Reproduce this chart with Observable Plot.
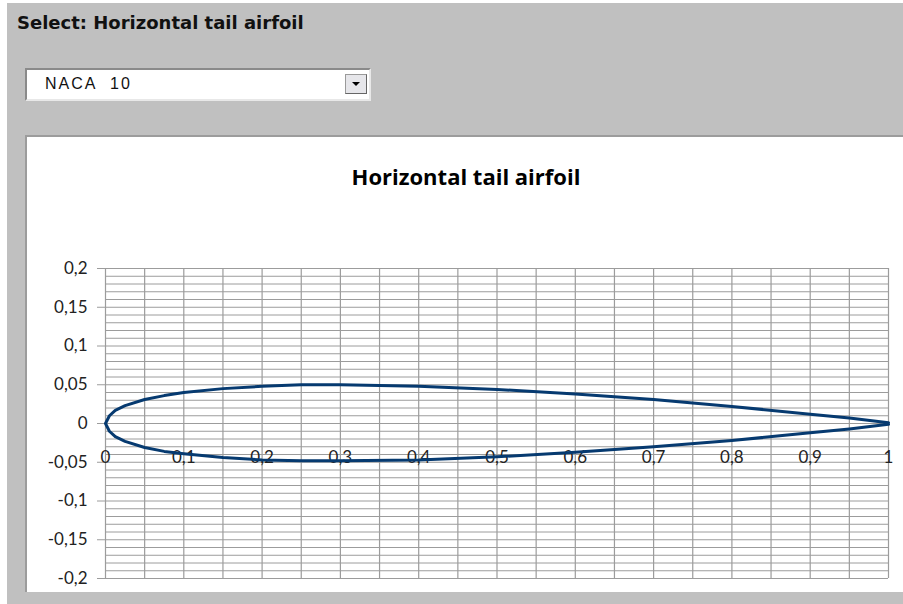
<!DOCTYPE html>
<html>
<head>
<meta charset="utf-8">
<script src="https://cdn.jsdelivr.net/npm/d3@7"></script>
<script src="https://cdn.jsdelivr.net/npm/@observablehq/plot@0.6"></script>
<style>
  html, body { margin: 0; padding: 0; background: #ffffff; width: 903px; height: 604px; overflow: hidden; }
  #bg { position: absolute; left: 7px; top: 3px; width: 896px; height: 601px; background: #c0c0c0; }
  #heading { position: absolute; left: 17px; top: 12px; font-family: "DejaVu Sans", sans-serif; font-weight: bold; font-size: 18px; color: #111; white-space: nowrap; }
  #dropdown { position: absolute; left: 25px; top: 68px; width: 342px; height: 29px; background: #fff;
    border-top: 2px solid #8a8a8a; border-left: 2px solid #8a8a8a; border-bottom: 2px solid #e8e8e8; border-right: 2px solid #e8e8e8; }
  #ddtext { position: absolute; left: 18px; top: 5px; font-family: "Liberation Sans", Arial, sans-serif; font-size: 16px; letter-spacing: 2px; word-spacing: 7px; color: #111; }
  #ddbtn { position: absolute; left: 318px; top: 4px; width: 20px; height: 18px; background: #e6e6ea; border: 1px solid #9a9a9a; border-right-color: #666; border-bottom-color: #666; }
  #ddbtn::after { content: ""; position: absolute; left: 6px; top: 7px; border-left: 4px solid transparent; border-right: 4px solid transparent; border-top: 4px solid #000; }
  #panel { position: absolute; left: 25px; top: 135px; width: 878px; height: 457px; background: #fff; border-top: 2px solid #9c9c9c; border-left: 2px solid #9c9c9c; box-sizing: border-box; }
  #ctitle { position: absolute; left: 0; width: 932px; top: 160px; line-height: 32px; text-align: center; font-family: "Open Sans", Lato, sans-serif; font-weight: bold; font-size: 22px; color: #000; }
  #chart { position: absolute; left: 25px; top: 255px; }
  #chart svg { display: block; overflow: visible; }
</style>
</head>
<body>
<div id="bg"></div>
<div id="heading">Select: Horizontal tail airfoil</div>
<div id="dropdown"><span id="ddtext">NACA 10</span><div id="ddbtn"></div></div>
<div id="panel"></div>
<div id="ctitle">Horizontal tail airfoil</div>
<div id="chart"></div>
<script>
// Airfoil contour: trailing edge -> upper surface -> leading edge -> lower surface -> trailing edge
const airfoilX = [1, 0.95, 0.9, 0.8, 0.7, 0.6, 0.5, 0.4, 0.3, 0.25, 0.2, 0.15, 0.1, 0.075, 0.05, 0.025, 0.0125, 0.005, 0,
                  0.005, 0.0125, 0.025, 0.05, 0.075, 0.1, 0.15, 0.2, 0.25, 0.3, 0.4, 0.5, 0.6, 0.7, 0.8, 0.9, 0.95, 1];
const airfoilY = [0.001, 0.007, 0.012, 0.022, 0.031, 0.038, 0.044, 0.048, 0.050, 0.050, 0.048, 0.045, 0.040, 0.036, 0.031, 0.023, 0.017, 0.010, 0,
                  -0.010, -0.017, -0.023, -0.031, -0.036, -0.039, -0.044, -0.047, -0.048, -0.048, -0.047, -0.043, -0.037, -0.030, -0.022, -0.012, -0.007, -0.001];

const xTickLabels = [0, 0.1, 0.2, 0.3, 0.4, 0.5, 0.6, 0.7, 0.8, 0.9, 1];
const yTickLabels = [0.2, 0.15, 0.1, 0.05, 0, -0.05, -0.1, -0.15, -0.2];
const xGridStep = 0.05;
const yGridStep = 0.01;

const airfoil = airfoilX.map((x, i) => ({x, y: airfoilY[i]}));
const xGrid = d3.range(0, 20 + 1).map(i => +(i * xGridStep).toFixed(3));
const yGrid = d3.range(-20, 20 + 1).map(i => +(i * yGridStep).toFixed(3));
const fmt = d => String(+d.toFixed(2)).replace(".", ",").replace("\u2212", "-");

const gridColor = "#9c9c9c";
const chart = Plot.plot({
  width: 878,
  height: 337,
  marginLeft: 80,
  marginRight: 15,
  marginTop: 13,
  marginBottom: 14,
  style: {fontFamily: "Lato, sans-serif", fontSize: "17px", color: "#222", background: "transparent"},
  x: {type: "linear", domain: [0, 1], axis: null},
  y: {type: "linear", domain: [-0.2, 0.2], axis: null},
  marks: [
    Plot.ruleY(yGrid, {stroke: gridColor, strokeWidth: 1}),
    Plot.ruleX(xGrid, {stroke: gridColor, strokeWidth: 1.2}),
    Plot.axisY(yTickLabels, {anchor: "left", label: null, tickSize: 8, tickPadding: 10, tickFormat: fmt, stroke: gridColor, fill: "#222", fontSize: 17}),
    Plot.text(xTickLabels, {x: d => d, y: () => 0, dy: 34, text: fmt, fill: "#222", fontSize: 17}),
    Plot.line(airfoil, {x: "x", y: "y", stroke: "#063a70", strokeWidth: 3, curve: "linear"})
  ]
});
document.getElementById("chart").appendChild(chart);
</script>
</body>
</html>
